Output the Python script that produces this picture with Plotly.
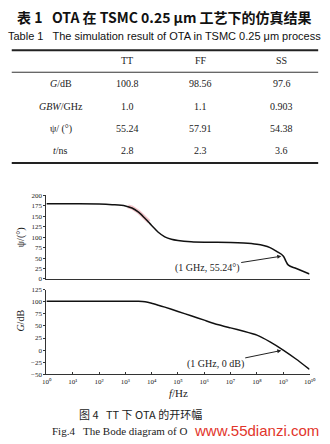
import plotly.graph_objects as go

W, H = 330, 444

# ---------------- data ----------------
table_cols = ["TT", "FF", "SS"]
row_labels = ["<i>G</i>/dB", "<i>GBW</i>/GHz", "ψ/ (°)", "<i>t</i>/ns"]
tt_vals = ["100.8", "1.0", "55.24", "2.8"]
ff_vals = ["98.56", "1.1", "57.91", "2.3"]
ss_vals = ["97.6", "0.903", "54.38", "3.6"]

phase_freq = [1e0, 1e1, 1e2, 3.16e2, 1e3, 1.78e3, 3.16e3, 5.62e3, 1e4, 1.78e4,
              3.16e4, 5.62e4, 1e5, 3.16e5, 1e6, 3.16e6, 1e7, 3.16e7, 1e8, 1.78e8,
              3.16e8, 5.62e8, 1e9, 1.26e9, 1.58e9, 3.16e9, 1e10]
phase_deg = [180, 180, 179.5, 178, 175, 170, 160, 145, 128, 112,
             101, 95, 92, 89, 88, 88, 87.5, 86, 83, 80,
             75, 66, 55.24, 43, 33, 25, 12]

pink_freq = [1.26e3, 1.78e3, 3.16e3, 5.62e3, 7.94e3]
pink_deg = [174, 171, 161, 146, 137]

gain_freq = [1e0, 1e1, 1e2, 1e3, 3.16e3, 5.62e3, 1e4, 1.78e4, 3.16e4, 1e5,
             3.16e5, 1e6, 3.16e6, 1e7, 3.16e7, 1e8, 3.16e8, 1e9, 3.16e9, 1e10]
gain_db = [101, 101, 101, 101, 101, 100, 97, 93, 89, 80,
           71, 62, 53, 46, 39, 31, 17, 0, -19, -40]

decade_ticks = [1e0, 1e1, 1e2, 1e3, 1e4, 1e5, 1e6, 1e7, 1e8, 1e9, 1e10]
decade_labels = ["10⁰", "10¹", "10²", "10³", "10⁴", "10⁵", "10⁶", "10⁷", "10⁸", "10⁹", "10¹⁰"]
phase_ticks = [0, 25, 50, 75, 100, 125, 150, 175, 200]
gain_ticks = [-50, -25, 0, 25, 50, 75, 100, 125]

phase_note = "(1 GHz, 55.24°)"
gain_note = "(1 GHz, 0 dB)"

# ---------------- helpers ----------------
def px(x):
    return x / W

def py(y):
    return 1 - y / H

SERIF = "Liberation Serif, Times New Roman, serif"
CJK = "Noto Sans CJK SC, sans-serif"

fig = go.Figure()

fig.add_trace(go.Scatter(x=pink_freq, y=pink_deg, mode="lines",
                         line=dict(color="rgba(230,140,150,0.5)", width=4),
                         xaxis="x", yaxis="y", hoverinfo="skip"))
fig.add_trace(go.Scatter(x=phase_freq, y=phase_deg, mode="lines",
                         line=dict(color="#111", width=1.5, shape="spline"),
                         xaxis="x", yaxis="y"))
fig.add_trace(go.Scatter(x=gain_freq, y=gain_db, mode="lines",
                         line=dict(color="#111", width=1.5, shape="spline", smoothing=0.4),
                         xaxis="x2", yaxis="y2"))

xdom = [px(43), px(316)]
axis_common = dict(showgrid=False, zeroline=False, showline=True,
                   linecolor="#333", linewidth=1, tickcolor="#333")

fig.update_layout(
    width=W, height=H, margin=dict(l=0, r=0, t=0, b=0),
    paper_bgcolor="white", plot_bgcolor="white", showlegend=False,
    xaxis=dict(type="log", range=[0, 10], domain=xdom, anchor="y",
               showticklabels=False, ticks="", **axis_common),
    yaxis=dict(range=[0, 200], domain=[py(280), py(195)], anchor="x",
               tickvals=phase_ticks, ticks="outside", ticklen=2,
               tickfont=dict(family=SERIF, size=7, color="#222"), **axis_common),
    xaxis2=dict(type="log", range=[0, 10], domain=xdom, anchor="y2",
                tickvals=decade_ticks, ticktext=decade_labels,
                ticks="inside", ticklen=2,
                tickfont=dict(family=SERIF, size=7, color="#222"), **axis_common),
    yaxis2=dict(range=[-50, 125], domain=[py(377), py(291)], anchor="x2",
                tickvals=gain_ticks, ticks="outside", ticklen=2,
                tickfont=dict(family=SERIF, size=7, color="#222"), **axis_common),
)

ann = []

def text(x, y, s, size=10, family=SERIF, color="#222", **kw):
    ann.append(dict(x=px(x), y=py(y), xref="paper", yref="paper", text=s,
                    showarrow=False, font=dict(family=family, size=size, color=color),
                    xanchor=kw.pop("xanchor", "center"), yanchor="middle", **kw))

# table titles
text(166, 13, "<b>表 1   OTA 在 TSMC 0.25 μm 工艺下的仿真结果</b>", size=14, family=CJK, color="#111")
text(166, 33, "Table 1   The simulation result of OTA in TSMC 0.25 μm process", size=11,
     family="Liberation Sans Narrow, Liberation Sans, Arial, sans-serif", color="#111")

col_x = [127, 203, 287]
row_y = [81, 104, 127, 149]
for cx, name in zip(col_x, table_cols):
    text(cx, 58, name, size=10)
for ry, lab in zip(row_y, row_labels):
    text(58, ry, lab, size=10)
for cx, vals in zip(col_x, [tt_vals, ff_vals, ss_vals]):
    for ry, v in zip(row_y, vals):
        text(cx, ry, v, size=10)

# axis titles
text(16, 237, "ψ/(°)", size=10, textangle=-90)
text(16, 322, "<i>G</i>/dB", size=10, textangle=-90)
text(180, 396, "<i>f</i>/Hz", size=11)

# arrows
ann.append(dict(x=9, y=55.24, xref="x", yref="y", text=phase_note, showarrow=True,
                arrowhead=2, arrowsize=0.8, arrowwidth=1, arrowcolor="#222",
                ax=-76, ay=12, standoff=2,
                font=dict(family=SERIF, size=10, color="#222")))
ann.append(dict(x=9, y=0, xref="x2", yref="y2", text=gain_note, showarrow=True,
                arrowhead=2, arrowsize=0.8, arrowwidth=1, arrowcolor="#222",
                ax=-68, ay=14, standoff=2,
                font=dict(family=SERIF, size=10, color="#222")))

# captions
text(75, 418, "图 4   TT 下 OTA 的开环幅", size=11, family=CJK, xanchor="left")
text(47, 435, "Fig.4   The Bode diagram of O", size=11, xanchor="left")
text(194, 434, "www.55dianzi.com", size=15, xanchor="left",
     family="Liberation Sans, Arial, sans-serif", color="#e2352b")

fig.update_layout(annotations=ann)

# table rules
shapes = [
    dict(type="line", xref="paper", yref="paper", x0=px(7), x1=px(325), y0=py(47), y1=py(47),
         line=dict(color="#222", width=2)),
    dict(type="line", xref="paper", yref="paper", x0=px(7), x1=px(325), y0=py(69.5), y1=py(69.5),
         line=dict(color="#333", width=1)),
    dict(type="line", xref="paper", yref="paper", x0=px(7), x1=px(325), y0=py(162), y1=py(162),
         line=dict(color="#222", width=2)),
]
fig.update_layout(shapes=shapes)

fig.write_html("out.html")
